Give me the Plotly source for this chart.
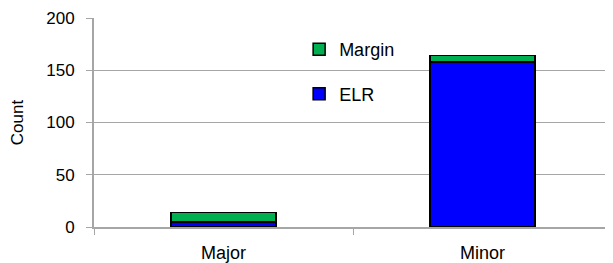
import plotly.graph_objects as go

categories = ["Major", "Minor"]
elr = [5, 158]
margin = [9, 6]

FONT = "Arial, Liberation Sans, sans-serif"
GRID = "#A6A6A6"

fig = go.Figure()
fig.add_trace(go.Bar(x=categories, y=elr, name="ELR",
                     marker=dict(color="#0000FF", line=dict(color="black", width=1.5)),
                     legendgroup="b", legendrank=2))
fig.add_trace(go.Bar(x=categories, y=margin, name="Margin",
                     marker=dict(color="#00B050", line=dict(color="black", width=1.5)),
                     legendgroup="a", legendrank=1))

fig.update_layout(
    width=605, height=255,
    barmode="stack", bargap=0.595,
    margin=dict(l=86, r=1, t=10, b=36, autoexpand=False),
    plot_bgcolor="white", paper_bgcolor="white",
    font=dict(family=FONT, size=17, color="black"),
    showlegend=True,
    legend=dict(x=0.396, y=0.937, xanchor="left", yanchor="top",
                traceorder="grouped", tracegroupgap=18,
                bgcolor="rgba(0,0,0,0)", font=dict(size=18), itemwidth=30),
)
fig.update_yaxes(range=[0, 200], dtick=50, showgrid=True, gridcolor=GRID, gridwidth=1,
                 showline=True, linecolor=GRID, linewidth=2, ticks="outside", ticklen=6,
                 tickcolor=GRID, zeroline=False, automargin=False, ticklabelstandoff=8,
                 title=dict(text="Count", font=dict(size=17), standoff=20),
                 tickfont=dict(size=17))
fig.update_xaxes(showline=True, linecolor=GRID, linewidth=2, ticks="outside", ticklen=6,
                 tickcolor=GRID, tickson="boundaries", tickfont=dict(size=18),
                 automargin=False, ticklabelstandoff=8)

fig.write_html("out.html")
